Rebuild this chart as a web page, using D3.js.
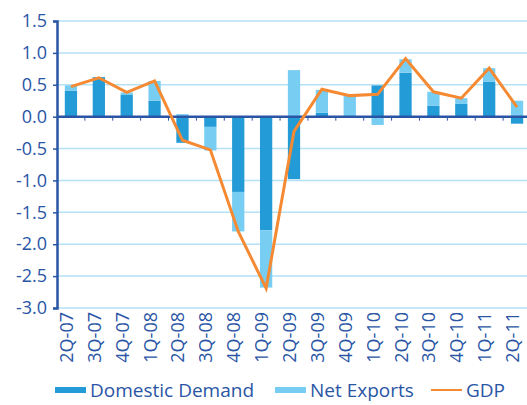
<!DOCTYPE html>
<html>
<head>
<meta charset="utf-8">
<script src="https://cdn.jsdelivr.net/npm/d3@7"></script>
<style>
  body { margin: 0; background: #fff; }
  svg { display: block; font-family: 'Open Sans', sans-serif; }
</style>
</head>
<body>
<svg width="527" height="405"></svg>
<script>
// quarters and contributions to GDP growth
let quarters = ['2Q-07', '3Q-07', '4Q-07', '1Q-08', '2Q-08', '3Q-08', '4Q-08', '1Q-09', '2Q-09',
  '3Q-09', '4Q-09', '1Q-10', '2Q-10', '3Q-10', '4Q-10', '1Q-11', '2Q-11'];
let domestic = [0.41, 0.62, 0.34, 0.25, -0.41, -0.16, -1.18, -1.78, -0.98,
  0.06, 0.0, 0.49, 0.69, 0.17, 0.20, 0.55, -0.11];
let netExports = [0.08, 0.0, 0.04, 0.31, 0.04, -0.37, -0.62, -0.90, 0.73,
  0.36, 0.34, -0.13, 0.21, 0.22, 0.09, 0.21, 0.25];
let gdp = [0.47, 0.61, 0.38, 0.56, -0.37, -0.52, -1.80, -2.69, -0.23,
  0.43, 0.33, 0.35, 0.91, 0.39, 0.29, 0.76, 0.15];
let yTicks = [1.5, 1.0, 0.5, 0.0, -0.5, -1.0, -1.5, -2.0, -2.5, -3.0];

let darkBlue = '#239bd6';
let lightBlue = '#77cdf2';
let orange = '#f58a33';
let navy = '#2a55a5';

let svg = d3.select('svg');
let plotLeft = 57, plotRight = 531, plotTop = 21, plotBottom = 308;

let x = d3.scaleBand()
  .domain(quarters)
  .range([plotLeft, plotRight])
  .paddingInner(0.56)
  .paddingOuter(0.28);
let y = d3.scaleLinear()
  .domain([-3.0, 1.5])
  .range([plotBottom, plotTop]);

// gridlines
svg.append('g')
  .selectAll('line')
  .data(yTicks.filter(function(d) { return d != 0; }))
  .enter()
  .append('line')
  .attr('x1', plotLeft)
  .attr('x2', plotRight)
  .attr('y1', function(d) { return y(d); })
  .attr('y2', function(d) { return y(d); })
  .attr('stroke', '#b5e1f6')
  .attr('stroke-width', 1.5);

// stacked bars: each series grows away from zero on its own side
let segs = [];
quarters.forEach(function(q, i) {
  let pos = 0, neg = 0;
  [[domestic[i], darkBlue], [netExports[i], lightBlue]].forEach(function(s) {
    let v = s[0];
    if (v >= 0) {
      segs.push({ q: q, y0: pos, y1: pos + v, color: s[1] });
      pos += v;
    } else {
      segs.push({ q: q, y0: neg, y1: neg + v, color: s[1] });
      neg += v;
    }
  });
});

svg.append('g')
  .selectAll('rect')
  .data(segs)
  .enter()
  .append('rect')
  .attr('x', function(d) { return x(d.q); })
  .attr('width', x.bandwidth())
  .attr('y', function(d) { return y(Math.max(d.y0, d.y1)); })
  .attr('height', function(d) { return Math.abs(y(d.y0) - y(d.y1)); })
  .attr('fill', function(d) { return d.color; });

// zero line with category ticks
svg.append('line')
  .attr('x1', plotLeft).attr('x2', plotRight)
  .attr('y1', y(0)).attr('y2', y(0))
  .attr('stroke', navy).attr('stroke-width', 2.5);
let step = x.step();
svg.append('g')
  .selectAll('line')
  .data(d3.range(1, quarters.length))
  .enter()
  .append('line')
  .attr('x1', function(d) { return plotLeft + d * step; })
  .attr('x2', function(d) { return plotLeft + d * step; })
  .attr('y1', y(0))
  .attr('y2', y(0) + 4)
  .attr('stroke', navy)
  .attr('stroke-width', 1);

// GDP line
let line = d3.line()
  .x(function(d, i) { return x(quarters[i]) + x.bandwidth() / 2; })
  .y(function(d) { return y(d); });
svg.append('path')
  .datum(gdp)
  .attr('d', line)
  .attr('fill', 'none')
  .attr('stroke', orange)
  .attr('stroke-width', 3)
  .attr('stroke-linejoin', 'miter');

// y axis
let yAxis = svg.append('g')
  .attr('transform', 'translate(' + plotLeft + ',0)')
  .call(d3.axisLeft(y).tickValues(yTicks).tickFormat(d3.format('.1f')).tickSize(4).tickPadding(6));
yAxis.select('.domain').attr('stroke', navy).attr('stroke-width', 2.5);
yAxis.selectAll('.tick line').attr('stroke', navy).attr('stroke-width', 1.5);
yAxis.selectAll('.tick text')
  .attr('fill', navy)
  .style('font-size', '18px')
  .style('font-family', "'Open Sans', sans-serif")
  .text(function(d) { return d3.format('.1f')(d).replace('−', '-'); });

// x labels
svg.append('g')
  .selectAll('text')
  .data(quarters)
  .enter()
  .append('text')
  .attr('transform', function(d) {
    return 'translate(' + (x(d) + x.bandwidth() / 2 + 2) + ',' + (plotBottom + 4) + ') rotate(-90)';
  })
  .attr('text-anchor', 'end')
  .attr('fill', navy)
  .style('font-size', '18px')
  .text(function(d) { return d; });

// legend
let legend = [
  { name: 'Domestic Demand', color: darkBlue, type: 'bar', x: 55 },
  { name: 'Net Exports', color: lightBlue, type: 'bar', x: 275 },
  { name: 'GDP', color: orange, type: 'line', x: 431 }
];
let lg = svg.append('g')
  .selectAll('g')
  .data(legend)
  .enter()
  .append('g')
  .attr('transform', function(d) { return 'translate(' + d.x + ',390)'; });
lg.append('rect')
  .attr('x', 0)
  .attr('width', 31)
  .attr('y', function(d) { return d.type == 'bar' ? -3 : -1; })
  .attr('height', function(d) { return d.type == 'bar' ? 6 : 2; })
  .attr('fill', function(d) { return d.color; });
lg.append('text')
  .attr('x', 35)
  .attr('y', 7)
  .attr('fill', navy)
  .style('font-size', '19px')
  .text(function(d) { return d.name; });
</script>
</body>
</html>
